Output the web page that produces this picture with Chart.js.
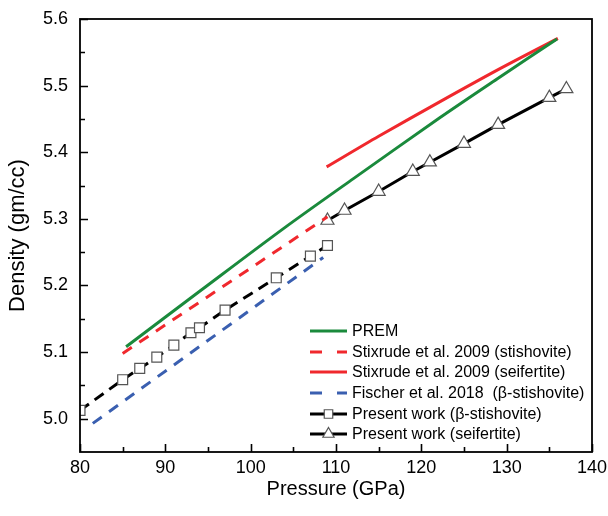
<!DOCTYPE html>
<html><head><meta charset="utf-8">
<script src="https://cdn.jsdelivr.net/npm/chart.js@4/dist/chart.umd.min.js"></script>
<style>html,body{margin:0;padding:0;background:#fff}#wrap{width:608px;height:516px;position:relative}</style>
</head><body><div id="wrap"><canvas id="c"></canvas></div>
<script>
const xTicks = [80, 90, 100, 110, 120, 130, 140];
const yTicks = [5.0, 5.1, 5.2, 5.3, 5.4, 5.5, 5.6];

const premP = [85.4, 94.1, 103.8, 112, 122.2, 129, 135.9];
const premD = [5.108, 5.192, 5.285, 5.36, 5.452, 5.511, 5.57];

const stixStishP = [85, 109];
const stixStishD = [5.098, 5.303];

const stixSeifP = [108.9, 115, 122.2, 129, 136];
const stixSeifD = [5.378, 5.424, 5.476, 5.524, 5.571];

const fischerP = [81.5, 108.5];
const fischerD = [4.993, 5.242];

const betaP = [80, 85, 87, 89, 91, 93, 94, 97, 103, 107, 109];
const betaD = [5.0125, 5.0585, 5.0755, 5.0924, 5.1104, 5.129, 5.1365, 5.163, 5.2115, 5.244, 5.26];

const seifP = [109, 111, 115, 119, 121, 125, 129, 135, 137];
const seifD = [5.2975, 5.3125, 5.341, 5.371, 5.385, 5.413, 5.4415, 5.482, 5.495];

const seriesLabels = [
  'PREM',
  'Stixrude et al. 2009 (stishovite)',
  'Stixrude et al. 2009 (seifertite)',
  'Fischer et al. 2018  (\u03B2-stishovite)',
  'Present work (\u03B2-stishovite)',
  'Present work (seifertite)'
];

const FONT = "'Liberation Sans', Arial, sans-serif";
const pts = (P, D) => P.map((p, i) => ({x: p, y: D[i]}));

const datasets = [
  {label: seriesLabels[0], data: pts(premP, premD), borderColor: '#1a8a3c', borderWidth: 3, pointRadius: 0, showLine: true, tension: 0.3},
  {label: seriesLabels[1], data: pts(stixStishP, stixStishD), borderColor: '#f0282d', borderWidth: 3, borderDash: [11, 9], pointRadius: 0, showLine: true},
  {label: seriesLabels[2], data: pts(stixSeifP, stixSeifD), borderColor: '#f0282d', borderWidth: 3, pointRadius: 0, showLine: true, tension: 0.3},
  {label: seriesLabels[3], data: pts(fischerP, fischerD), borderColor: '#3a5fb0', borderWidth: 3, borderDash: [11, 9], pointRadius: 0, showLine: true},
  {label: seriesLabels[4], data: pts(betaP, betaD), borderColor: '#000', borderWidth: 3, borderDash: [11, 7], showLine: true,
   pointStyle: 'rect', pointRadius: 7, pointBackgroundColor: '#fff', pointBorderColor: '#555', pointBorderWidth: 1.2},
  {label: seriesLabels[5], data: pts(seifP, seifD), borderColor: '#000', borderWidth: 3, showLine: true,
   pointStyle: 'triangle', pointRadius: 7.5, pointBackgroundColor: '#fff', pointBorderColor: '#555', pointBorderWidth: 1.2}
];

const framePlugin = {
  id: 'framePlugin',
  afterDraw(chart) {
    const {ctx, chartArea: a, scales: {x, y}} = chart;
    ctx.save();
    ctx.strokeStyle = '#000';
    ctx.lineWidth = 1.8;
    ctx.strokeRect(a.left, a.top, a.right - a.left, a.bottom - a.top);
    ctx.lineWidth = 1.6;
    ctx.beginPath();
    for (let i = 0; i <= 12; i++) {
      const v = xTicks[0] + i * 5;
      const px = Math.round(x.getPixelForValue(v)) + 0.5;
      const len = i % 2 === 0 ? 8 : 5;
      ctx.moveTo(px, a.bottom); ctx.lineTo(px, a.bottom - len);
    }
    for (let i = 0; i <= 12; i++) {
      const v = yTicks[0] + i * 0.05;
      const py = Math.round(y.getPixelForValue(v)) + 0.5;
      const len = i % 2 === 0 ? 8 : 5;
      ctx.moveTo(a.left, py); ctx.lineTo(a.left + len, py);
    }
    ctx.stroke();

    // legend
    const lx0 = 310, lx1 = 347, tx = 352;
    const rows = [331, 352, 372, 393, 414, 434];
    ctx.font = '16px ' + FONT;
    ctx.textBaseline = 'middle';
    ctx.fillStyle = '#000';
    chart.data.datasets.forEach((ds, i) => {
      const yy = rows[i];
      ctx.save();
      ctx.strokeStyle = ds.borderColor;
      ctx.lineWidth = ds.borderWidth;
      if (ds.borderDash && i !== 4) { ctx.setLineDash([12, 15]); }
      ctx.beginPath(); ctx.moveTo(lx0, yy); ctx.lineTo(lx1, yy); ctx.stroke();
      ctx.restore();
      if (ds.pointStyle) {
        ctx.save();
        ctx.fillStyle = '#fff'; ctx.strokeStyle = '#555'; ctx.lineWidth = 1.2;
        Chart.helpers.drawPoint(ctx, {pointStyle: ds.pointStyle, radius: ds.pointStyle === 'rect' ? 6 : 6.5, borderWidth: 1.2, rotation: 0},
          (lx0 + lx1) / 2, yy);
        ctx.restore();
      }
      ctx.fillStyle = '#000';
      ctx.fillText(ds.label, tx, yy + 1);
    });
    ctx.restore();
  }
};

new Chart(document.getElementById('c'), {
  type: 'scatter',
  data: {datasets},
  options: {
    responsive: true,
    maintainAspectRatio: false,
    animation: false,
    layout: {padding: {top: 19, right: 16, bottom: 0, left: 0}},
    plugins: {legend: {display: false}, tooltip: {enabled: false}},
    scales: {
      x: {
        type: 'linear', min: 80, max: 140,
        afterBuildTicks: s => { s.ticks = xTicks.map(v => ({value: v})); },
        afterFit: s => { s.height = 64; s.paddingLeft = 0; s.paddingRight = 0; },
        grid: {display: false, drawTicks: false},
        border: {display: false},
        ticks: {font: {size: 18, family: FONT}, color: '#000', padding: 5, maxRotation: 0, autoSkip: false},
        title: {display: true, text: 'Pressure (GPa)', font: {size: 20, family: FONT}, color: '#000', padding: {top: 0, bottom: 15}}
      },
      y: {
        type: 'linear', min: 4.95, max: 5.6,
        afterBuildTicks: s => { s.ticks = yTicks.map(v => ({value: v})); },
        afterFit: s => { s.width = 80; s.paddingTop = 0; s.paddingBottom = 0; },
        grid: {display: false, drawTicks: false},
        border: {display: false},
        ticks: {font: {size: 18, family: FONT}, color: '#000', padding: 12, autoSkip: false, callback: v => Number(v).toFixed(1)},
        title: {display: true, text: 'Density (gm/cc)', font: {size: 22, family: FONT}, color: '#000', padding: {top: 5, bottom: 0}}
      }
    }
  },
  plugins: [framePlugin]
});
</script>
</body></html>
